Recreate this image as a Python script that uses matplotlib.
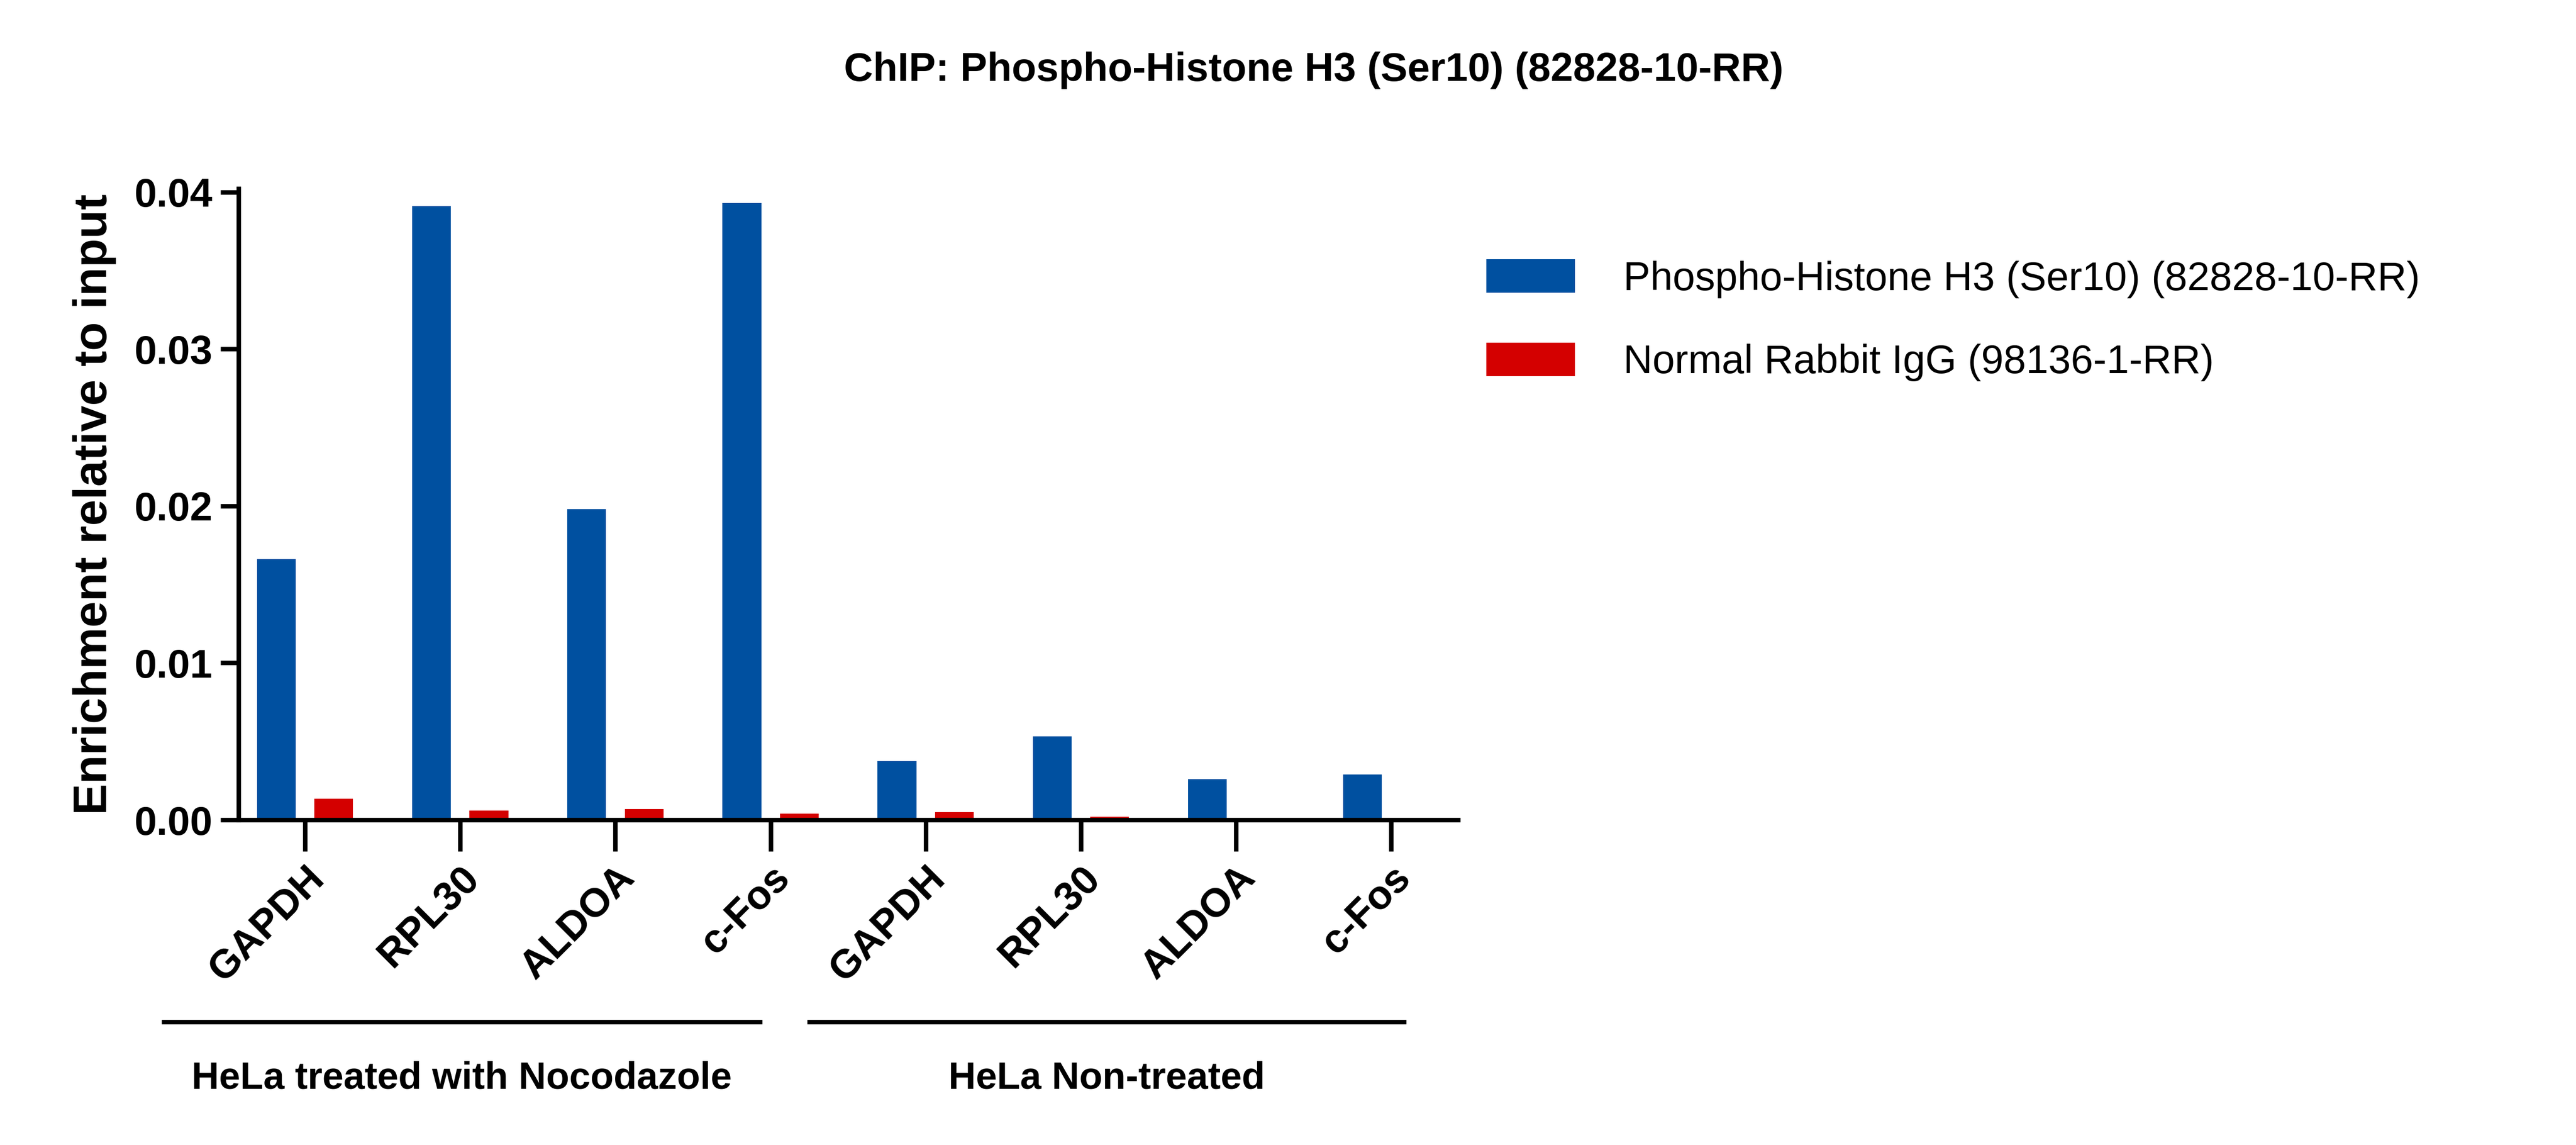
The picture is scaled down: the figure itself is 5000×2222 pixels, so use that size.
import matplotlib
matplotlib.use("Agg")
import matplotlib.pyplot as plt
import numpy as np

genes = ["GAPDH", "RPL30", "ALDOA", "c-Fos", "GAPDH", "RPL30", "ALDOA", "c-Fos"]
groups = ["HeLa treated with Nocodazole", "HeLa Non-treated"]
phospho = [0.0166, 0.0391, 0.0198, 0.0393, 0.00375, 0.0053, 0.0026, 0.0029]
igg = [0.00135, 0.0006, 0.0007, 0.0004, 0.0005, 0.0002, 0.0001, 0.0001]
yticks = [0.0, 0.01, 0.02, 0.03, 0.04]

plt.rcParams["font.family"] = "Liberation Sans"
fig = plt.figure(figsize=(16, 7.111), dpi=312.5)
ax = fig.add_axes([0.0925, 0.284, 0.4735, 0.551])

x = np.arange(len(genes))
w = 0.25
ax.bar(x - 0.185, phospho, w, color="#0050A0", label="Phospho-Histone H3 (Ser10) (82828-10-RR)")
ax.bar(x + 0.185, igg, w, color="#D40000", label="Normal Rabbit IgG (98136-1-RR)")

ax.set_xlim(-0.43, len(genes) - 0.57)
ax.set_ylim(0, 0.0402)
ax.set_yticks(yticks)
ax.set_yticklabels([f"{v:.2f}" for v in yticks])
ax.set_xticks(x)
ax.set_xticklabels(genes, rotation=45, ha="right", rotation_mode="anchor")
for s in ["top", "right"]:
    ax.spines[s].set_visible(False)
for s in ["left", "bottom"]:
    ax.spines[s].set_linewidth(2)
ax.tick_params(width=2, length=8, labelsize=18)
ax.tick_params(axis="x", length=14)
for lbl in ax.get_xticklabels() + ax.get_yticklabels():
    lbl.set_fontweight("bold")
ax.set_ylabel("Enrichment relative to input", fontsize=21, fontweight="bold", labelpad=8)
fig.suptitle("ChIP: Phospho-Histone H3 (Ser10) (82828-10-RR)", x=0.51, y=0.955,
             fontsize=18, fontweight="bold")

# group brackets
trans = ax.get_xaxis_transform()
spans = [(-0.91, 2.93), (3.25, 7.08)]
for name, (x0, x1) in zip(groups, spans):
    ax.plot([x0, x1], [-0.32, -0.32], color="black", lw=2, transform=trans, clip_on=False)
    ax.text((x0 + x1) / 2, -0.41, name, transform=trans, ha="center", va="center",
            fontsize=17, fontweight="bold")

fig.legend(loc="upper left", bbox_to_anchor=(0.563, 0.805), frameon=False, fontsize=18,
           handlelength=2.2, handleheight=0.9, labelspacing=1.1, handletextpad=1.2)

fig.savefig("out.png", dpi=312.5)
